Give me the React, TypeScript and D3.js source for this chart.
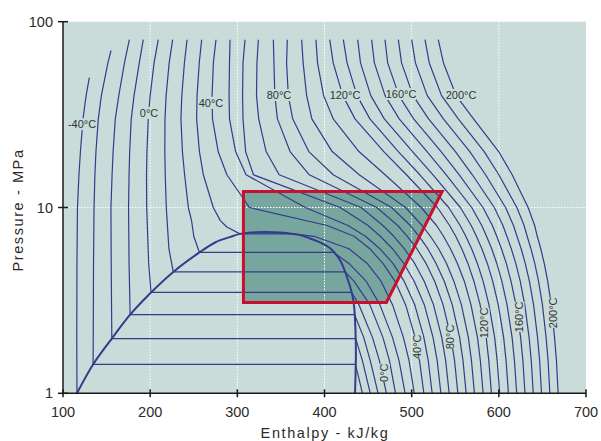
import React from 'react';
import * as d3 from 'd3';

// ---------- data (enthalpy kJ/kg, pressure MPa) ----------
const X_TICKS = [100, 200, 300, 400, 500, 600, 700];
const Y_TICKS = [1, 10, 100];
const GRID_H = [200, 300, 400, 500, 600];
const GRID_P = [10];

// saturation dome
const domeH = [116, 134.5, 156, 177, 201, 226.5, 256.5, 275, 292, 303, 315, 332, 350, 364, 375, 383.5, 396, 406.5, 418, 426, 431.5, 434, 435.5, 436, 435];
const domeP = [1, 1.43, 1.97, 2.65, 3.49, 4.5, 5.73, 6.5, 6.95, 7.21, 7.34, 7.38, 7.34, 7.21, 7.05, 6.81, 6.45, 6.03, 5.19, 4.2, 3.45, 2.92, 2.2, 1.6, 1.0];

// sub-critical isotherms: [h, p]
const iso_m40: [number, number][] = [[130.2, 50], [126.5, 40], [123, 30], [120, 20], [118.3, 15], [116.6, 10], [116, 5], [115.8, 2], [116, 1]];
const iso_m30: [number, number][] = [[155.1, 70], [151.5, 60], [144, 40], [140.5, 30], [137.8, 20], [136.6, 15], [135.6, 10], [135, 5], [134.7, 2], [134.5, 1.43], [435.5, 1.43], [439.5, 1.2], [443.5, 1]];
const iso_m20: [number, number][] = [[176.1, 80], [170.5, 60], [164, 40], [160, 30], [157.5, 20], [156.3, 15], [155, 10], [155.3, 5], [156, 1.97], [435.8, 1.97], [443.5, 1.5], [452.5, 1]];
const iso_m10: [number, number][] = [[192.1, 80], [187.5, 60], [181.5, 40], [178.3, 30], [176.5, 20], [175.8, 15], [175.2, 10], [175.8, 5], [177, 2.65], [434.5, 2.65], [445, 2], [452.5, 1.5], [461.5, 1]];
const iso_0: [number, number][] = [[209.3, 80], [204.5, 60], [200, 40], [197.8, 30], [196.3, 20], [195.8, 15], [196, 10], [198.3, 5], [201, 3.49], [431.3, 3.49], [439.5, 3], [455, 2], [463, 1.5], [471, 1]];
const iso_10: [number, number][] = [[225.8, 80], [221.8, 60], [218.3, 40], [217, 30], [216.8, 20], [217.3, 15], [218.5, 10], [221.5, 6], [226.5, 4.5], [423.6, 4.5], [434, 4], [452, 3], [467, 2], [474.5, 1.5], [481.5, 1]];
const iso_20: [number, number][] = [[242.3, 80], [239.3, 60], [236.3, 40], [235.3, 30], [237, 20], [239.5, 15], [243.8, 10], [247.5, 8.5], [250, 7], [256.5, 5.73], [410.6, 5.73], [428, 5], [448, 4], [463.5, 3], [478, 2], [485.5, 1.5], [492.5, 1]];
const iso_30: [number, number][] = [[259.1, 80], [256.3, 60], [253.8, 40], [253.3, 30], [256.5, 20], [261, 15], [272.4, 10], [280.5, 8.5], [288, 7.85], [303, 7.21], [364, 7.21], [388, 7], [428, 6], [449, 5], [465, 4], [478, 3], [490.5, 2], [497, 1.5], [503, 1]];

// super-critical isotherms: h at P_LEVELS
const P_LEVELS = [80, 60, 40, 30, 20, 15, 10, 8, 7, 6, 5, 4, 3, 2, 1.5, 1];
const h_40 = [275.5, 272.5, 271, 271.5, 278, 288, 314, 403, 434, 452, 467, 481, 493, 504, 509, 514];
const h_50 = [291.6, 291, 290.5, 291, 298, 310, 378, 427, 447, 463.5, 478.5, 491.5, 503.5, 514, 519, 523.5];
const h_60 = [308.8, 306.5, 306, 306.5, 309.5, 318.5, 418, 450, 464, 478, 491, 503, 514.5, 524.5, 529.3, 533.5];
const h_70 = [324.1, 322.5, 322, 324.5, 333, 348, 442, 467, 479.5, 491.5, 503.5, 514.5, 525, 534.5, 539, 543];
const h_80 = [341.3, 342, 343, 346, 360.5, 382.5, 460, 484, 495, 506, 516.5, 526.5, 536, 545, 549.2, 553];
const h_90 = [357.3, 356.5, 358.5, 363.5, 382, 410, 477, 498.5, 508.5, 518.5, 528, 537.5, 546.5, 555, 558.9, 562.5];
const h_100 = [373.8, 375.5, 379.5, 385.5, 408.8, 439.8, 493, 512, 521.5, 531, 540, 548.5, 557, 565, 568.6, 572];
const h_110 = [390.2, 392, 399, 410, 439.5, 469.5, 511, 528.5, 536.5, 544.5, 552.5, 560.5, 568, 575.5, 578.8, 582];
const h_120 = [406, 410, 421, 435, 468, 494, 529.5, 543.5, 550.5, 557.5, 564.5, 571.5, 578.5, 585.5, 588.5, 591.5];
const h_130 = [421.6, 425.9, 437.3, 452.1, 484.7, 509.4, 542.5, 555.6, 562.1, 568.8, 575.4, 582, 588.6, 595.2, 598.1, 601];
const h_140 = [438.1, 441.3, 453.1, 468.6, 501, 524.5, 555.9, 568.3, 574.3, 580.5, 586.8, 593, 599.3, 605.5, 608.3, 611];
const h_150 = [454.1, 457.2, 469.5, 485.7, 517.6, 539.7, 568.9, 580.4, 585.9, 591.8, 597.7, 603.5, 609.4, 615.2, 617.9, 620.5];
const h_160 = [469.4, 472.5, 485.3, 502.3, 533.8, 554.6, 581.8, 592.6, 597.6, 603, 608.6, 614, 619.6, 625, 627.6, 630];
const h_170 = [484.7, 488.4, 501.6, 519.4, 550.2, 569.6, 594.8, 604.7, 609.2, 614.3, 619.4, 624.6, 629.7, 634.7, 637.2, 639.5];
const h_180 = [500, 504.3, 517.9, 536.4, 566.7, 584.8, 607.7, 616.8, 620.8, 625.6, 630.3, 635.1, 639.8, 644.4, 646.8, 649];
const h_190 = [515.3, 520.2, 534.3, 553.5, 583.2, 600, 620.7, 629, 632.5, 636.8, 641.2, 645.6, 650, 654.2, 656.5, 658.5];
const h_200 = [530.5, 536.5, 551, 571, 599.8, 615.3, 633.6, 641.1, 644.1, 648.1, 652.1, 656.1, 660.1, 663.9, 666.1, 668];

// operating region (box)
const boxH = [307, 535, 471, 307];
const boxP = [12.2, 12.2, 3.08, 3.08];

// labels
const topLabels = ['-40°C', '0°C', '40°C', '80°C', '120°C', '160°C', '200°C'];
const topLabelH = [121.8, 198.7, 269.8, 347.8, 423.5, 487.8, 556.6];
const topLabelP = [28.1, 32.3, 36.6, 40.3, 40.3, 40.8, 40.3];
const sideLabels = ['0°C', '40°C', '80°C', '120°C', '160°C', '200°C'];
const sideLabelH = [468.6, 506.5, 544, 583, 623.1, 662.5];
const sideLabelP = [1.29, 1.78, 2.01, 2.39, 2.58, 2.71];

const SUB_ISOS = [iso_m40, iso_m30, iso_m20, iso_m10, iso_0, iso_10, iso_20, iso_30];
const SUPER_H = [h_40, h_50, h_60, h_70, h_80, h_90, h_100, h_110, h_120, h_130, h_140, h_150, h_160, h_170, h_180, h_190, h_200];

const BG = '#c9dcd9';
const LINE = '#363a8c';
const FONT = '"Liberation Sans", Arial, Helvetica, sans-serif';

export default function App() {
  const W = 601, H = 441;
  const x = d3.scaleLinear().domain([100, 700]).range([63, 586]);
  const y = d3.scaleLog().domain([1, 100]).range([393.3, 21.7]);
  const line = d3.line<[number, number]>().x(d => x(d[0])).y(d => y(d[1]));
  const domeLine = d3.line<[number, number]>().x(d => x(d[0])).y(d => y(d[1])).curve(d3.curveCatmullRom.alpha(0.5));

  const superPaths = SUPER_H.map(hs => hs.map((h, i) => [h, P_LEVELS[i]] as [number, number]));
  const allIsos = [...SUB_ISOS, ...superPaths];
  const dome = domeH.map((h, i) => [h, domeP[i]] as [number, number]);
  const box = boxH.map((h, i) => [h, boxP[i]] as [number, number]);
  const boxPath = line(box) + 'Z';

  const [x0, x1] = x.range();
  const [yb, yt] = y.range();

  return (
    <svg width={W} height={H} style={{ position: 'absolute', left: 0, top: 0, background: '#fff' }} fontFamily={FONT}>
      <rect x={x0} y={yt} width={x1 - x0} height={yb - yt} fill={BG} />
      <path d={boxPath} fill="#77a69e" stroke="none" />
      {GRID_H.map(h => (
        <line key={'gh' + h} x1={x(h)} x2={x(h)} y1={yt} y2={yb} stroke="#ffffff" strokeWidth={1} strokeDasharray="1.5 1.5" />
      ))}
      {GRID_P.map(p => (
        <line key={'gp' + p} x1={x0} x2={x1} y1={y(p)} y2={y(p)} stroke="#ffffff" strokeWidth={1} strokeDasharray="1.5 1.5" />
      ))}
      {allIsos.map((pts, i) => (
        <path key={'iso' + i} d={line(pts) || ''} fill="none" stroke={LINE} strokeWidth={1.2} strokeLinejoin="round" />
      ))}
      <path d={domeLine(dome) || ''} fill="none" stroke={LINE} strokeWidth={2} />
      <path d={boxPath} fill="none" stroke="#c8102e" strokeWidth={3} strokeLinejoin="miter" />

      {topLabels.map((t, i) => {
        const cx = x(topLabelH[i]);
        const cy = y(topLabelP[i]);
        const w = t.length * 6;
        return (
          <g key={'tl' + i}>
            <rect x={cx - w / 2} y={cy - 6} width={w} height={12} fill={BG} />
            <text x={cx} y={cy} textAnchor="middle" dominantBaseline="central" fontSize={11} fill="#333">{t}</text>
          </g>
        );
      })}
      {sideLabels.map((t, i) => {
        const cx = x(sideLabelH[i]);
        const cy = y(sideLabelP[i]);
        const w = t.length * 6;
        return (
          <g key={'sl' + i} transform={`translate(${cx},${cy}) rotate(-90)`}>
            <rect x={-w / 2} y={-5.5} width={w} height={11} fill={BG} />
            <text x={0} y={0} textAnchor="middle" dominantBaseline="central" fontSize={11} fill="#333">{t}</text>
          </g>
        );
      })}

      {/* axes */}
      <line x1={x0} x2={x0} y1={yt} y2={yb} stroke="#1a1a1a" strokeWidth={1.5} />
      <line x1={x0} x2={x1} y1={yb} y2={yb} stroke="#1a1a1a" strokeWidth={1.5} />
      {Y_TICKS.map(p => (
        <g key={'yt' + p}>
          <line x1={x0 - 5} x2={x0 + 5} y1={y(p)} y2={y(p)} stroke="#1a1a1a" strokeWidth={1.5} />
          <text x={x0 - 10} y={y(p)} textAnchor="end" dominantBaseline="central" fontSize={14.5} fill="#2b2b2b">{p}</text>
        </g>
      ))}
      {X_TICKS.map(h => (
        <g key={'xt' + h}>
          <line x1={x(h)} x2={x(h)} y1={yb - 4} y2={yb + 4} stroke="#1a1a1a" strokeWidth={1.5} />
          <text x={x(h)} y={yb + 19} textAnchor="middle" dominantBaseline="central" fontSize={14.5} fill="#2b2b2b">{h}</text>
        </g>
      ))}
      <text x={325} y={438} textAnchor="middle" fontSize={14.5} letterSpacing={1.6} fill="#2b2b2b">Enthalpy - kJ/kg</text>
      <text transform="translate(23,210) rotate(-90)" textAnchor="middle" fontSize={14.5} letterSpacing={1.6} fill="#2b2b2b">Pressure - MPa</text>
    </svg>
  );
}
